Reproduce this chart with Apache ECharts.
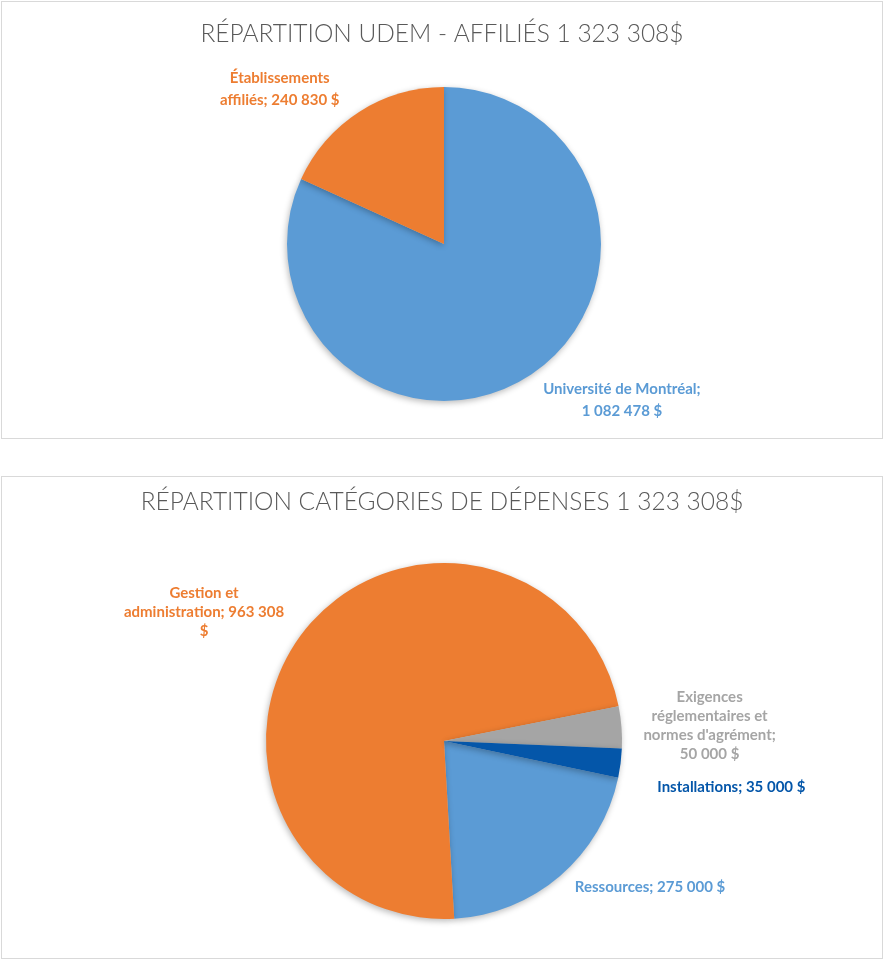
<!DOCTYPE html>
<html>
<head>
<meta charset="utf-8">
<script src="https://cdn.jsdelivr.net/npm/echarts@6/dist/echarts.min.js"></script>
<style>
  html, body { margin: 0; padding: 0; background: #ffffff; }
  .box { position: absolute; left: 1px; width: 882px; border: 1px solid #d9d9d9; background: #fff; box-sizing: border-box; }
  #c1 { top: 1px; height: 438px; }
  #c2 { top: 476px; height: 483px; }
</style>
</head>
<body>
<div id="c1" class="box"></div>
<div id="c2" class="box"></div>
<script>
// ---- Data ----
const titleTop = 'RÉPARTITION UDEM - AFFILIÉS 1 323 308$';
const categoriesTop = ['Université de Montréal', 'Établissements affiliés'];
const valuesTop = [1082478, 240830];
const colorsTop = ['#5B9BD5', '#ED7D31'];
const breaksTop = [[2], [0]];            // word index after which a line break occurs

const titleBottom = 'RÉPARTITION CATÉGORIES DE DÉPENSES 1 323 308$';
const categoriesBottom = ['Ressources', 'Gestion et administration', "Exigences réglementaires et normes d'agrément", 'Installations'];
const valuesBottom = [275000, 963308, 50000, 35000];
const colorsBottom = ['#5B9BD5', '#ED7D31', '#A5A5A5', '#0456A9'];
const breaksBottom = [[], [1, 3], [0, 2, 4], []];

// ---- Helpers ----
function fmt(v) {
  return String(v).replace(/\B(?=(\d{3})+(?!\d))/g, '\u00a0');
}
function labelText(name, value, breaks) {
  const words = (name + '; ' + fmt(value) + ' $').split(' ');
  let out = '';
  words.forEach((w, i) => {
    out += w;
    if (i < words.length - 1) out += breaks.indexOf(i) >= 0 ? '\n' : ' ';
  });
  return out;
}

function buildOption(title, titleTopPx, cats, vals, colors, breaks, center, radius, startAngle, layout, lineHeight) {
  return {
    animation: false,
    title: {
      text: title, left: 'center', top: titleTopPx,
      textStyle: { fontFamily: 'Lato, "Open Sans", sans-serif', fontWeight: 300, fontSize: 24.5, color: '#595959' }
    },
    series: [{
      type: 'pie',
      center: center,
      radius: radius,
      startAngle: startAngle,
      clockwise: true,
      avoidLabelOverlap: false,
      silent: true,
      itemStyle: { shadowBlur: 6, shadowColor: 'rgba(0,0,0,0.28)', shadowOffsetX: -1, shadowOffsetY: 2 },
      data: cats.map((c, i) => ({
        name: c, value: vals[i],
        itemStyle: { color: colors[i] },
        label: { color: colors[i] },
        labelLine: { length: layout[i][0], length2: 0 }
      })),
      label: {
        show: true, position: 'outside', distanceToLabelLine: 0,
        fontFamily: 'Lato, "Open Sans", sans-serif', fontWeight: 'bold', fontSize: 15, lineHeight: lineHeight,
        formatter: p => labelText(p.name, p.value, breaks[p.dataIndex])
      },
      labelLine: { show: false },
      labelLayout: function (params) {
        const o = layout[params.dataIndex];
        const w = params.labelRect.width;
        const sign = params.align === 'right' ? -1 : 1;
        return { align: 'center', dx: sign * w / 2 + o[1], dy: o[2] };
      }
    }]
  };
}

// layout: [labelLine length, extra dx, extra dy]
const c1 = echarts.init(document.getElementById('c1'), null, { renderer: 'canvas' });
c1.setOption(buildOption(titleTop, 15, categoriesTop, valuesTop, colorsTop, breaksTop,
  [442, 242], 157, 90, [[30, -2, -1], [27, -5, 0]], 21.5));

const c2 = echarts.init(document.getElementById('c2'), null, { renderer: 'canvas' });
c2.setOption(buildOption(titleBottom, 8, categoriesBottom, valuesBottom, colorsBottom, breaksBottom,
  [442, 264], 178, -11.9, [[15, 5, 0], [33, 7, 0], [24, -2, 0], [39, -2, 19]], 19));
</script>
</body>
</html>
